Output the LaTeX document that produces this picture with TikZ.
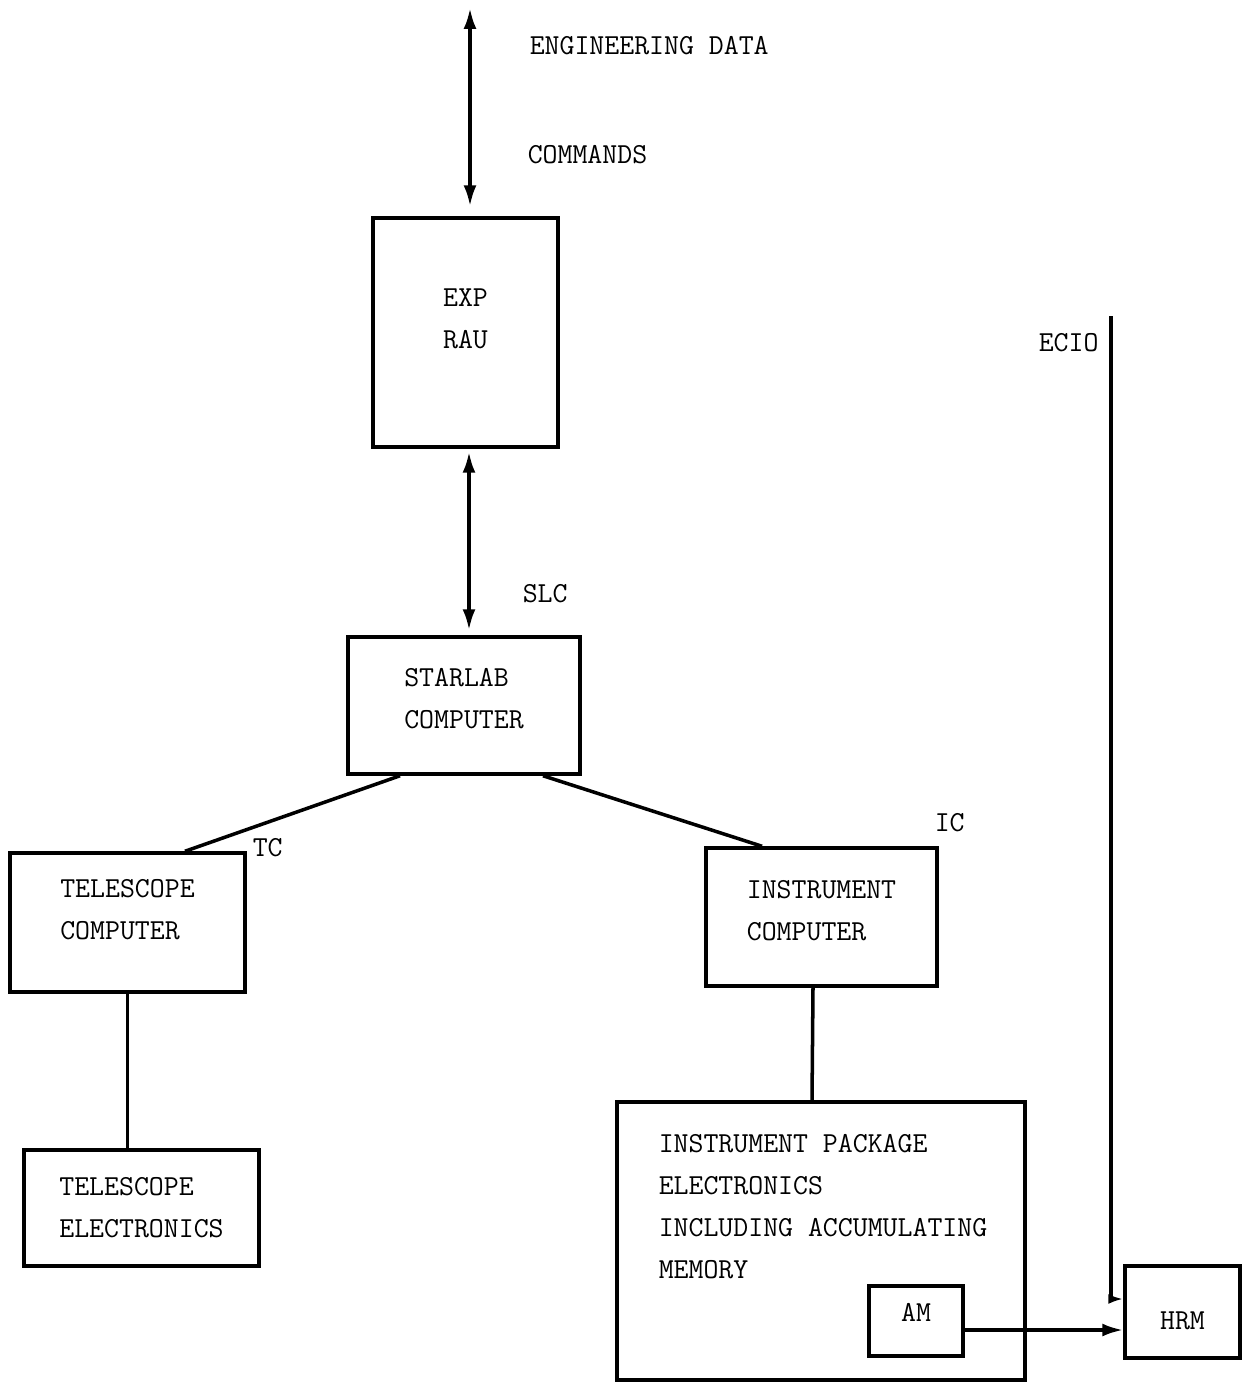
\documentclass[tikz,border=0pt]{standalone}
\usepackage{fontspec}
\usetikzlibrary{arrows.meta}
\begin{document}
\begin{tikzpicture}[x=0.02cm, y=-0.02cm, line width=2pt,
  every node/.style={font=\ttfamily\fontsize{16.5}{23.9}\selectfont},
  box/.style={draw, rectangle, align=left, inner sep=0pt},
  tag/.style={anchor=west, inner sep=0pt},
  link/.style={{Latex[length=0.42cm,width=0.26cm]}-{Latex[length=0.42cm,width=0.26cm]}}]
\useasboundingbox (0,0) rectangle (1243,1382);
\node[box, minimum width=3.7cm, minimum height=4.58cm, text depth=0.54cm] (rau) at (465.5,332.5) {EXP\\RAU};
\node[box, minimum width=4.64cm, minimum height=2.74cm, text depth=0.28cm] (slc) at (464,705.5) {STARLAB\\COMPUTER};
\node[box, minimum width=4.7cm, minimum height=2.78cm, text depth=0.52cm] (tc) at (127.5,922.5) {TELESCOPE\\COMPUTER};
\node[box, minimum width=4.62cm, minimum height=2.76cm, text depth=0.26cm] (ic) at (821.5,917) {INSTRUMENT\\COMPUTER};
\node[box, minimum width=4.7cm, minimum height=2.32cm] (te) at (141.5,1208) {TELESCOPE\\ELECTRONICS};
\node[box, minimum width=8.16cm, minimum height=5.56cm] (ipe) at (821,1241) {};
\node[align=left, anchor=north west, inner sep=0pt] (ipetext) at (657,1133) {INSTRUMENT PACKAGE\\ELECTRONICS\\INCLUDING ACCUMULATING\\MEMORY};
\node[box, minimum width=1.88cm, minimum height=1.4cm, text depth=0.36cm] (am) at (916,1321) {AM};
\node[box, minimum width=2.3cm, minimum height=1.84cm, text height=0.71cm] (hrm) at (1182.5,1312) {HRM};
\coordinate (top) at (470,8);
\coordinate (ecio) at (1111,316);
\node[tag] (eng) at (528,46) {ENGINEERING DATA};
\node[tag] (cmd) at (526,155) {COMMANDS};
\node[tag] (slclabel) at (521,594) {SLC};
\node[tag] (tclabel) at (251,848) {TC};
\node[tag] (iclabel) at (933,823) {IC};
\node[tag] (eciolabel) at (1037,343) {ECIO};
\draw[link, shorten >=0.2cm] (top) -- (top |- rau.north);
\draw[link, shorten <=0.06cm, shorten >=0.1cm] ([xshift=0.07cm]rau.south) -- ([xshift=0.1cm]slc.north);
\draw ([xshift=-1.28cm]slc.south) -- ([xshift=1.15cm]tc.north);
\draw ([xshift=1.58cm]slc.south) -- ([xshift=-1.19cm]ic.north);
\draw (tc.south) -- (tc.south |- te.north);
\draw ([xshift=-0.17cm]ic.south) -- ([xshift=-0.18cm]ipe.north);
\draw[-{Latex[length=0.42cm,width=0.26cm]}] ([yshift=-0.18cm]am.east) -- ([yshift=-0.18cm]am.east -| hrm.west);
\draw[-{Latex[length=0.3cm,width=0.2cm]}] (ecio) |- ([yshift=0.26cm]hrm.west);
\end{tikzpicture}
\end{document}
